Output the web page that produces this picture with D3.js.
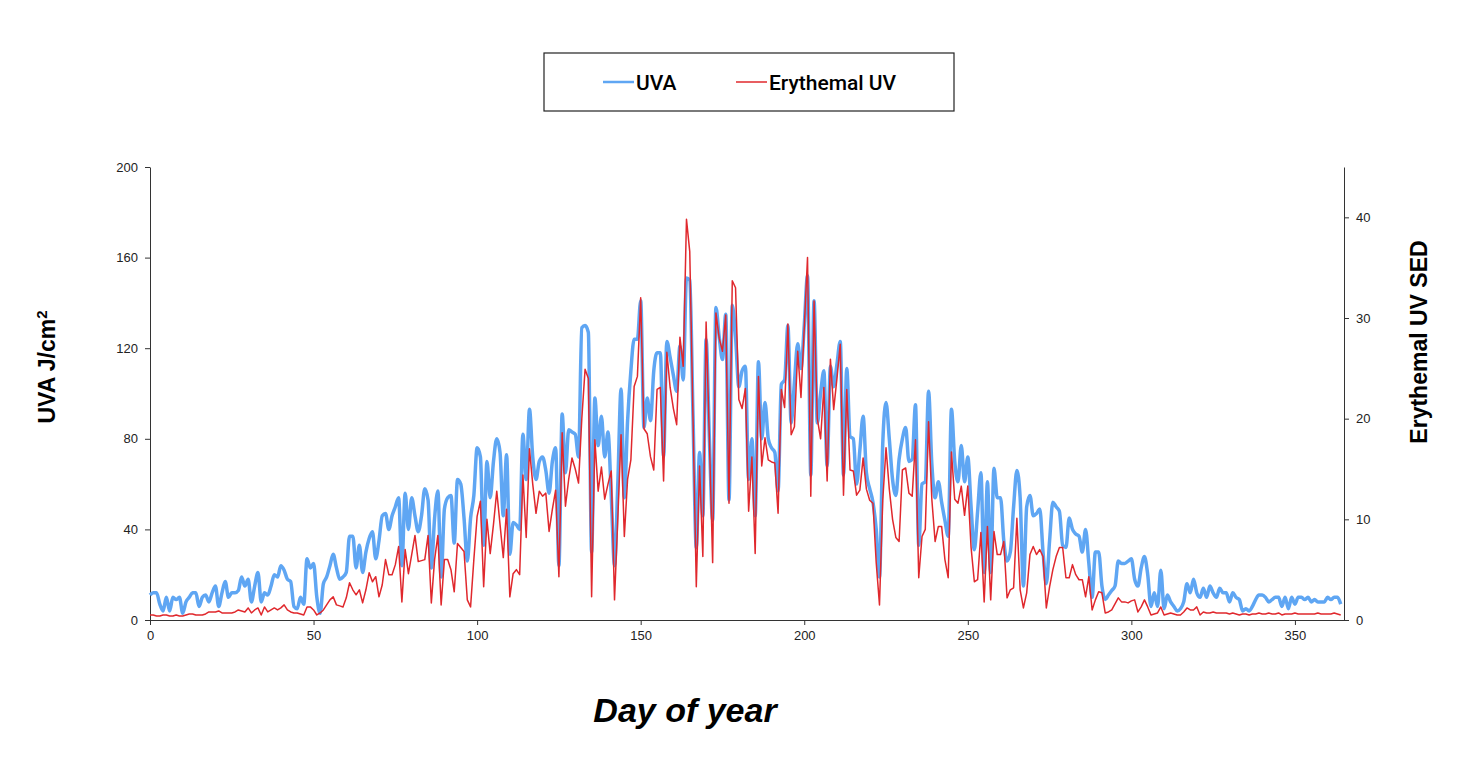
<!DOCTYPE html>
<html>
<head>
<meta charset="utf-8">
<script src="https://cdn.jsdelivr.net/npm/d3@7"></script>
<style>
  body { margin: 0; background: #fff; }
  .axis text { font-family: "Liberation Sans", Arial, sans-serif; font-size: 13px; fill: #222; }
  .axis path, .axis line { stroke: #333; stroke-width: 1; }
  .title { font-family: "Liberation Sans", Arial, sans-serif; fill: #000; }
</style>
</head>
<body>
<svg id="chart" width="1478" height="774"></svg>
<script>
/////////////////////////////////// DONNEES ///////////////////////////////////
// one value per day of year
var uva = [
  11,12,12,7,4,10,4,10,9,10, 3,8,10,12,12,6,10,11,8,12,
  15,6,12,17,10,12,12,13,19,15, 18,8,15,21,8,12,11,15,20,19,
  24,22,18,17,6,5,10,7,27,23, 25,10,3,16,19,24,29,23,18,19,
  21,37,37,23,33,21,30,36,39,27, 35,46,47,40,46,50,54,24,56,40,
  54,46,39,46,58,53,23,45,57,19, 49,54,55,34,62,60,45,26,45,55,
  76,72,33,70,54,70,80,74,46,73, 29,43,42,40,82,62,93,72,62,70,
  72,66,56,70,76,24,91,65,84,83, 82,72,129,130,127,30,98,77,90,72,
  83,55,24,60,102,54,88,110,124,124, 141,85,98,88,110,118,118,72,123,116,
  108,101,121,106,151,150,90,32,74,46, 124,80,44,138,125,115,135,53,139,125,
  103,110,112,62,80,46,114,80,96,80, 76,74,57,104,106,130,87,105,122,111,
  130,152,64,141,87,100,110,68,112,103, 113,123,64,111,81,80,60,75,90,65,
  58,52,40,19,78,96,80,62,55,71, 80,85,70,71,95,33,60,61,101,69,
  54,61,52,44,37,93,70,61,77,61, 72,50,31,48,65,21,61,21,67,54,
  54,35,26,30,50,66,54,15,50,55, 46,47,49,30,16,35,52,50,48,33,
  32,45,40,38,37,30,40,25,10,30, 30,15,9,11,13,15,26,25,25,26,
  27,18,15,23,28,20,6,12,6,22, 5,11,8,6,4,5,8,16,12,18,
  12,10,14,10,15,12,10,14,12,12, 8,12,10,9,4,5,4,6,9,11,
  11,10,8,9,10,10,6,10,5,10, 7,10,10,9,10,8,9,8,8,8,
  10,9,10,10,7
];

var erythemal = [
  0.5,0.5,0.4,0.4,0.5,0.5,0.4,0.4,0.5,0.4, 0.4,0.5,0.6,0.6,0.5,0.5,0.5,0.6,0.8,0.8,
  0.8,0.9,0.7,0.7,0.7,0.7,0.8,1.0,0.9,0.8, 1.2,0.7,1.0,1.2,0.5,1.3,0.8,1.0,1.2,1.0,
  1.2,1.5,1.0,0.8,0.7,0.7,0.6,0.5,1.3,1.3, 1.0,0.5,0.7,1.0,1.5,2.0,2.3,1.5,1.4,1.3,
  2.2,3.7,3.0,2.5,3.0,1.7,3.0,4.7,3.8,4.3, 2.3,3.5,6.0,4.5,4.5,5.5,7.3,1.8,7.0,4.6,
  6.5,8.4,5.8,5.9,6.0,8.4,1.7,6.0,8.4,1.5, 6.0,6.0,5.0,2.8,7.6,7.2,6.8,2.0,1.3,6.0,
  10.3,11.8,3.3,10.0,6.6,9.5,12.8,9.5,6.2,11.0, 2.3,4.6,5.0,4.5,14.4,8.2,17.0,13.5,10.6,12.8,
  12.3,12.6,8.8,11.0,12.9,4.3,18.6,11.3,14.0,16.1, 15.0,13.6,20.0,24.9,24.0,2.3,17.9,12.8,15.2,12.0,
  13.5,14.8,2.0,10.0,18.4,8.3,14.0,15.9,23.2,24.2, 32.0,19.0,18.5,16.2,14.9,22.9,23.1,13.8,26.6,23.1,
  21.0,19.4,28.1,25.2,39.8,36.6,20.0,3.3,15.3,6.3, 29.6,18.0,5.7,30.5,28.0,26.7,30.3,11.6,33.7,33.0,
  21.9,21.0,23.0,10.8,16.2,6.6,24.2,15.3,18.1,15.9, 15.7,15.6,10.6,22.9,21.1,29.4,18.4,19.2,26.7,22.1,
  29.0,36.0,12.3,31.7,20.0,18.0,23.1,13.8,25.9,20.9, 24.0,27.4,12.4,22.9,14.9,14.8,12.4,12.9,16.1,13.0,
  11.9,11.6,5.7,1.5,11.9,17.1,13.0,10.0,8.2,7.8, 14.9,15.1,12.6,12.3,17.9,4.2,8.3,9.0,19.7,12.0,
  7.8,9.3,9.3,6.0,4.2,16.7,12.0,11.6,13.3,10.4, 13.3,7.2,3.8,4.0,8.7,1.8,9.3,2.0,8.8,6.5,
  6.5,7.8,2.2,3.0,3.2,10.1,3.0,1.2,2.7,6.5, 7.3,6.5,7.0,6.3,1.2,3.3,5.0,6.3,7.2,7.2,
  4.2,4.2,5.5,4.5,4.0,4.0,2.3,4.3,1.0,2.0, 2.8,2.7,0.7,0.8,1.0,1.6,2.2,1.8,1.8,1.7,
  1.9,2.0,0.8,1.3,2.0,1.3,0.5,0.6,0.7,1.3, 0.5,0.6,0.7,0.6,0.5,0.5,0.8,1.2,1.0,1.0,
  1.3,0.5,0.8,0.7,0.7,0.8,0.7,0.7,0.7,0.7, 0.6,0.7,0.6,0.5,0.6,0.6,0.5,0.6,0.6,0.7,
  0.6,0.6,0.7,0.6,0.6,0.7,0.5,0.6,0.6,0.6, 0.7,0.6,0.6,0.6,0.6,0.6,0.6,0.7,0.6,0.6,
  0.6,0.6,0.7,0.6,0.5
];

var xTicks = [0, 50, 100, 150, 200, 250, 300, 350];
var leftTicks = [0, 40, 80, 120, 160, 200];
var rightTicks = [0, 10, 20, 30, 40];

var legendItems = [
  { lib: "UVA", color: "#5fa6f3", width: 3.5 },
  { lib: "Erythemal UV", color: "#e0282d", width: 1.5 }
];

/////////////////////////////////// ECHELLES ///////////////////////////////////
var svg = d3.select("#chart");

var x = d3.scaleLinear().domain([0, 365]).range([150, 1344]);
var yLeft = d3.scaleLinear().domain([0, 200]).range([620, 167]);
var yRight = d3.scaleLinear().domain([0, 45]).range([620, 167]);

/////////////////////////////////// AXES ///////////////////////////////////
svg.append("g")
   .attr("class", "axis")
   .attr("transform", "translate(0,620)")
   .call(d3.axisBottom(x).tickValues(xTicks).tickSize(5).tickSizeOuter(0).tickPadding(6));

svg.append("g")
   .attr("class", "axis")
   .attr("transform", "translate(150,0)")
   .call(d3.axisLeft(yLeft).tickValues(leftTicks).tickSize(5).tickSizeOuter(0).tickPadding(7));

svg.append("g")
   .attr("class", "axis")
   .attr("transform", "translate(1344,0)")
   .call(d3.axisRight(yRight).tickValues(rightTicks).tickSize(5).tickSizeOuter(0).tickPadding(7));

svg.selectAll(".axis text").style("font-size", "13px");

/////////////////////////////////// COURBES ///////////////////////////////////
var uvaLine = d3.line()
                .x(function(d, i) { return x(i); })
                .y(function(d) { return yLeft(d); })
                .curve(d3.curveMonotoneX);

var eryLine = d3.line()
                .x(function(d, i) { return x(i); })
                .y(function(d) { return yRight(d); });

svg.append("path")
   .datum(uva)
   .attr("d", uvaLine)
   .style("fill", "none")
   .style("stroke", legendItems[0].color)
   .style("stroke-width", legendItems[0].width)
   .style("stroke-linejoin", "round");

svg.append("path")
   .datum(erythemal)
   .attr("d", eryLine)
   .style("fill", "none")
   .style("stroke", legendItems[1].color)
   .style("stroke-width", legendItems[1].width)
   .style("stroke-linejoin", "round");

/////////////////////////////////// TITRES ///////////////////////////////////
var leftTitle = svg.append("text")
   .attr("class", "title")
   .attr("transform", "translate(55,367) rotate(-90)")
   .attr("text-anchor", "middle")
   .style("font-size", "23px")
   .style("font-weight", "bold");
leftTitle.append("tspan").text("UVA J/cm");
leftTitle.append("tspan")
         .attr("baseline-shift", "super")
         .style("font-size", "15px")
         .text("2");

svg.append("text")
   .attr("class", "title")
   .attr("transform", "translate(1427,342) rotate(-90)")
   .attr("text-anchor", "middle")
   .style("font-size", "23px")
   .style("font-weight", "bold")
   .text("Erythemal UV SED");

svg.append("text")
   .attr("class", "title")
   .attr("x", 685)
   .attr("y", 722)
   .attr("text-anchor", "middle")
   .style("font-size", "34px")
   .style("font-weight", "bold")
   .style("font-style", "italic")
   .text("Day of year");

/////////////////////////////////// LEGENDE ///////////////////////////////////
var legend = svg.append("g").attr("class", "legend");

legend.append("rect")
      .attr("x", 544)
      .attr("y", 53)
      .attr("width", 410)
      .attr("height", 58)
      .style("fill", "#fff")
      .style("stroke", "#222")
      .style("stroke-width", 1.2);

var legendX = [603, 736];
legendItems.forEach(function(item, i) {
  legend.append("line")
        .attr("x1", legendX[i])
        .attr("x2", legendX[i] + 31)
        .attr("y1", 82)
        .attr("y2", 82)
        .style("stroke", item.color)
        .style("stroke-width", i === 0 ? 2.5 : 1.5);
  legend.append("text")
        .attr("class", "title")
        .attr("x", legendX[i] + 33)
        .attr("y", 90)
        .style("font-size", "21px")
        .style("font-family", "Roboto, 'Liberation Sans', sans-serif")
        .style("font-weight", "500")
        .text(item.lib);
});
</script>
</body>
</html>
